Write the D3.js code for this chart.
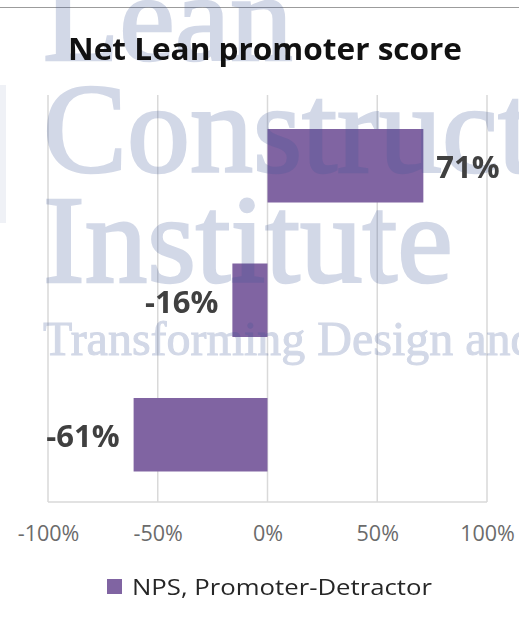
<!DOCTYPE html>
<html>
<head>
<meta charset="utf-8">
<script src="https://cdn.jsdelivr.net/npm/d3@7"></script>
<style>
	html, body { margin: 0; padding: 0; background: #fff; }
	svg { display: block; }
</style>
</head>
<body>
<svg id="chart" width="519" height="619"></svg>
<script>
// chart data
var categories  = ["Group A", "Group B", "Group C"];
var npsValues   = [0.71, -0.16, -0.61];
var tickValues  = [-1, -0.5, 0, 0.5, 1];
var seriesName  = "NPS, Promoter-Detractor";
var chartTitle  = "Net Lean promoter score";
var watermark   = ["Lean", "Construct", "Institute", "Transforming Design and"];

var svg = d3.select("#chart");
var W = 519, H = 619;
var barColor = "#8064a2";
var sans = "'Open Sans', Lato, sans-serif";

// hyphen minus, like the original
var pct = d3.formatLocale({decimal: ".", thousands: ",", grouping: [3], currency: ["$", ""], minus: "-"}).format(".0%");

var x = d3.scaleLinear().domain([-1, 1]).range([48, 487]);
var y = d3.scaleBand().domain(categories).range([98.5, 502])
	.paddingInner(0.4535).paddingOuter(0.2268);

// top edge line of the screenshot
svg.append("line")
	.attr("x1", 0).attr("x2", W).attr("y1", 7.5).attr("y2", 7.5)
	.attr("stroke", "#9c9c9c").attr("stroke-width", 1.2);

// grid
var grid = svg.append("g");
grid.selectAll("line.v").data(tickValues).enter().append("line")
	.attr("class", "v")
	.attr("x1", function(d){ return x(d); })
	.attr("x2", function(d){ return x(d); })
	.attr("y1", 95).attr("y2", 502)
	.attr("stroke", "#d9d9d9").attr("stroke-width", 1.5);
grid.append("line")
	.attr("x1", x(-1)).attr("x2", x(1)).attr("y1", 502).attr("y2", 502)
	.attr("stroke", "#d9d9d9").attr("stroke-width", 1.5);

// bars
svg.selectAll("rect.bar").data(npsValues).enter().append("rect")
	.attr("class", "bar")
	.attr("x", function(d){ return x(Math.min(0, d)); })
	.attr("width", function(d){ return Math.abs(x(d) - x(0)); })
	.attr("y", function(d, i){ return y(categories[i]); })
	.attr("height", y.bandwidth())
	.attr("fill", barColor);

// watermark overlay (group opacity so fill + stroke don't stack)
var wm = svg.append("g")
	.attr("opacity", 0.23)
	.attr("fill", "rgb(60,85,150)")
	.attr("stroke", "rgb(60,85,150)")
	.attr("font-family", "'Liberation Serif', 'DejaVu Serif', serif");
wm.append("rect").attr("x", 0).attr("y", 85).attr("width", 6).attr("height", 138)
	.attr("stroke", "none").attr("opacity", 0.35);
var wmRows = [
	{t: watermark[0], y: 60,  s: 125, w: 2.5},
	{t: watermark[1], y: 172, s: 126, w: 2.5},
	{t: watermark[2], y: 282, s: 125, w: 2.5},
	{t: watermark[3], y: 355, s: 48,  w: 1}
];
wm.selectAll("text").data(wmRows).enter().append("text")
	.attr("x", 43)
	.attr("y", function(d){ return d.y; })
	.attr("font-size", function(d){ return d.s; })
	.attr("stroke-width", function(d){ return d.w; })
	.text(function(d){ return d.t; });

// data labels
svg.selectAll("text.lbl").data(npsValues).enter().append("text")
	.attr("class", "lbl")
	.attr("x", function(d){ return d >= 0 ? x(d) + 13 : x(d) - 14; })
	.attr("y", function(d, i){ return y(categories[i]) + y.bandwidth() / 2 + 12.5; })
	.attr("text-anchor", function(d){ return d >= 0 ? "start" : "end"; })
	.attr("font-family", sans)
	.attr("font-weight", "bold")
	.attr("font-size", 31)
	.attr("fill", "#404040")
	.text(function(d){ return pct(d); });

// x axis labels
var xAxis = d3.axisBottom(x).tickValues(tickValues).tickFormat(pct).tickSize(0).tickPadding(0);
var ax = svg.append("g").attr("transform", "translate(0,526)").call(xAxis);
ax.select(".domain").remove();
ax.selectAll("text")
	.attr("font-family", sans)
	.attr("font-size", 21.5)
	.attr("fill", "#6b6b6b");

// title
svg.append("text")
	.attr("x", 68).attr("y", 60)
	.attr("font-family", sans)
	.attr("font-weight", "bold")
	.attr("font-size", 31)
	.attr("textLength", 394)
	.attr("lengthAdjust", "spacingAndGlyphs")
	.attr("fill", "#111")
	.text(chartTitle);

// legend
var lg = svg.append("g");
lg.append("rect").attr("x", 107).attr("y", 579).attr("width", 15).attr("height", 15).attr("fill", barColor);
lg.append("text")
	.attr("x", 132).attr("y", 594.5)
	.attr("font-family", sans)
	.attr("font-size", 22)
	.attr("textLength", 300)
	.attr("lengthAdjust", "spacingAndGlyphs")
	.attr("fill", "#262626")
	.text(seriesName);
</script>
</body>
</html>
